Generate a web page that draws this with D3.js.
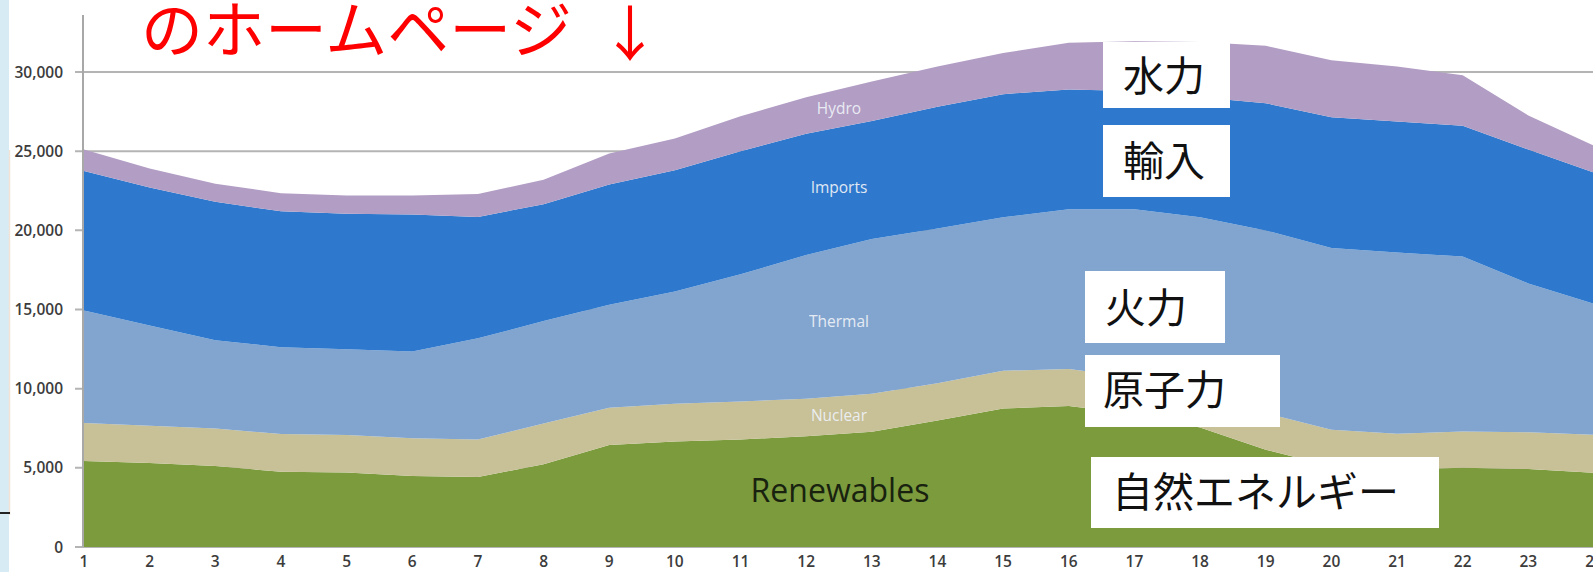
<!DOCTYPE html>
<html>
<head>
<meta charset="utf-8">
<script src="https://cdn.jsdelivr.net/npm/d3@7"></script>
<style>
  html, body { margin: 0; padding: 0; background: #ffffff; }
  svg { display: block; }
</style>
</head>
<body>
<svg id="chart" width="1593" height="572"></svg>
<script>
// Hourly electricity supply by source (MW), hours 1–24
const hours = d3.range(1, 25);
const renewables = [5430, 5300, 5120, 4750, 4710, 4480, 4420, 5230, 6440, 6670, 6790, 6990, 7280, 7990, 8750, 8900, 8400, 7550, 6150, 5100, 4900, 5000, 4930, 4690];
const nuclear    = [2400, 2360, 2360, 2380, 2360, 2390, 2370, 2570, 2360, 2380, 2400, 2370, 2400, 2360, 2380, 2350, 2300, 2300, 2300, 2300, 2260, 2300, 2320, 2390];
const thermal    = [7100, 6330, 5580, 5490, 5420, 5480, 6390, 6470, 6500, 7080, 8030, 9080, 9780, 9760, 9690, 10080, 10630, 10970, 11540, 11490, 11440, 11040, 9400, 8280];
const imports    = [8820, 8710, 8740, 8580, 8560, 8650, 7670, 7380, 7600, 7670, 7780, 7660, 7440, 7690, 7780, 7570, 7470, 7580, 8035, 8260, 8280, 8260, 8450, 8290];
const hydro      = [1350, 1200, 1150, 1150, 1150, 1200, 1450, 1550, 1950, 2000, 2200, 2300, 2500, 2550, 2600, 2950, 3150, 3500, 3630, 3600, 3470, 3200, 2150, 1700];

const seriesKeys   = ["Renewables", "Nuclear", "Thermal", "Imports", "Hydro"];
const seriesColors = ["#7b9b3d", "#c8c096", "#82a5cf", "#2e79cd", "#b29dc4"];
const yTicks = [0, 5000, 10000, 15000, 20000, 25000, 30000];

// Japanese callouts for each source
const jpLabels = ["水力", "輸入", "火力", "原子力", "自然エネルギー"];
const headline = "のホームページ";
const headArrow = "↓";

// ---- layout ----
const svg = d3.select("#chart");
const W = 1593, H = 572;
const plotLeft = 84, plotRight = 1594, plotBottom = 547, plotTop = 72;

const x = d3.scaleLinear().domain([1, 24]).range([plotLeft, plotRight]);
const y = d3.scaleLinear().domain([0, 30000]).range([plotBottom, plotTop]);

// edge of a neighbouring slide on the far left
svg.append("rect").attr("x", 0).attr("y", 0).attr("width", 9).attr("height", H).attr("fill", "#d6ebf3");
svg.append("line").attr("x1", 9.5).attr("x2", 9.5).attr("y1", 150).attr("y2", 515)
  .attr("stroke", "#f3e3d6").attr("stroke-width", 1.5);
svg.append("line").attr("x1", 0).attr("x2", 10).attr("y1", 513).attr("y2", 513)
  .attr("stroke", "#222").attr("stroke-width", 2);

// gridlines
svg.append("g").selectAll("line").data(yTicks).join("line")
  .attr("x1", plotLeft - 9).attr("x2", W)
  .attr("y1", d => y(d)).attr("y2", d => y(d))
  .attr("stroke", "#b4b4b4").attr("stroke-width", 2);

// stacked areas
const rows = hours.map((h, i) => ({
  hour: h,
  Renewables: renewables[i], Nuclear: nuclear[i], Thermal: thermal[i],
  Imports: imports[i], Hydro: hydro[i]
}));
const stacked = d3.stack().keys(seriesKeys)(rows);
const area = d3.area()
  .x(d => x(d.data.hour))
  .y0(d => y(d[0]))
  .y1(d => y(d[1]))
  .curve(d3.curveLinear);

svg.append("g").selectAll("path").data(stacked).join("path")
  .attr("d", area)
  .attr("fill", (d, i) => seriesColors[i]);

// y axis line
svg.append("line").attr("x1", plotLeft - 1).attr("x2", plotLeft - 1)
  .attr("y1", 15).attr("y2", plotBottom)
  .attr("stroke", "#a8a8a8").attr("stroke-width", 2);

// y tick labels
const fmt = d3.format(",");
svg.append("g").selectAll("text").data(yTicks).join("text")
  .attr("x", 63).attr("y", d => y(d)).attr("dy", "0.36em")
  .attr("text-anchor", "end")
  .attr("font-family", "Open Sans, sans-serif").attr("font-size", 15.5)
  .attr("font-weight", 600).attr("fill", "#3c3c3c")
  .text(d => fmt(d));

// x tick labels
svg.append("g").selectAll("text").data(hours).join("text")
  .attr("x", d => x(d)).attr("y", 567)
  .attr("text-anchor", "middle")
  .attr("font-family", "Open Sans, sans-serif").attr("font-size", 15.5)
  .attr("font-weight", 600).attr("fill", "#3c3c3c")
  .text(d => d);

// in-chart series labels at the middle of each band, hour 12.5
const labelHour = 12.5;
const i0 = 11, i1 = 12;
stacked.forEach((layer, k) => {
  const lo = (layer[i0][0] + layer[i1][0]) / 2;
  const hi = (layer[i0][1] + layer[i1][1]) / 2;
  const big = layer.key === "Renewables";
  svg.append("text")
    .attr("x", x(labelHour) + (big ? 1 : 0))
    .attr("y", y((lo + hi) / 2))
    .attr("dy", "0.35em")
    .attr("text-anchor", "middle")
    .attr("font-family", "Open Sans, sans-serif")
    .attr("font-size", big ? 32 : 15.5)
    .attr("font-weight", big ? 500 : 400)
    .attr("fill", big ? "#18220f" : "#eef2f8")
    .attr("opacity", big ? 1 : 0.92)
    .text(layer.key);
});

// Japanese callout boxes
const boxes = [
  { x: 1103, y: 42,  w: 127, h: 66, tx: 1123, ty: 76 },
  { x: 1103, y: 125, w: 127, h: 72, tx: 1123, ty: 161 },
  { x: 1085, y: 271, w: 140, h: 72, tx: 1105, ty: 308 },
  { x: 1085, y: 355, w: 195, h: 72, tx: 1103, ty: 390 },
  { x: 1091, y: 457, w: 348, h: 71, tx: 1112, ty: 492 }
];
const callouts = svg.append("g").selectAll("g").data(boxes).join("g");
callouts.append("rect")
  .attr("x", d => d.x).attr("y", d => d.y).attr("width", d => d.w).attr("height", d => d.h)
  .attr("fill", "#ffffff");
callouts.append("text")
  .attr("x", d => d.tx).attr("y", d => d.ty).attr("dy", "0.36em")
  .attr("font-family", "Noto Sans CJK JP, sans-serif").attr("font-size", 41)
  .attr("fill", "#111111")
  .text((d, i) => jpLabels[i]);

// red heading and arrow at the top
svg.append("text")
  .attr("x", 141).attr("y", 53)
  .attr("font-family", "Noto Sans CJK JP, sans-serif").attr("font-size", 62)
  .attr("fill", "#ff0000")
  .text(headline);
svg.append("text")
  .attr("x", 630).attr("y", 56)
  .attr("text-anchor", "middle")
  .attr("font-family", "Noto Sans CJK JP, sans-serif").attr("font-size", 60)
  .attr("fill", "#ff0000")
  .text(headArrow);
</script>
</body>
</html>
